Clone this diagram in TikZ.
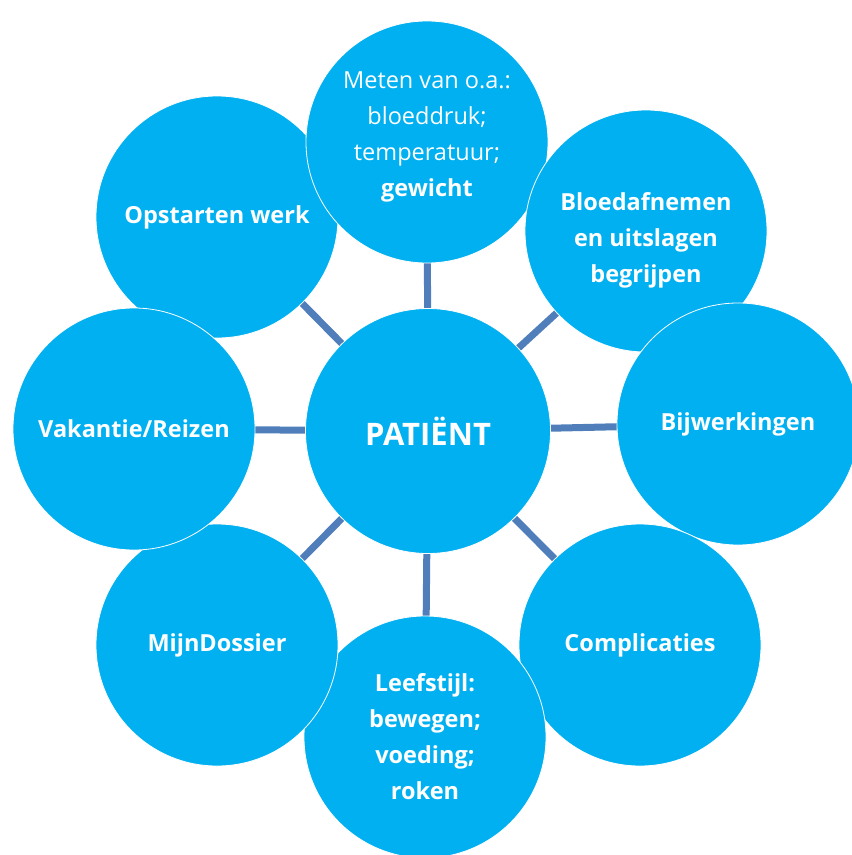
\documentclass[tikz,border=0pt]{standalone}
\usepackage{fontspec}
\setmainfont{Open Sans}
\usetikzlibrary{backgrounds}

\definecolor{bubbleblue}{RGB}{0,176,240}
\definecolor{spokeblue}{RGB}{79,126,186}

\begin{document}
\begin{tikzpicture}[x=1pt, y=-1pt,
  bubbletext/.style={text=white, align=center, inner sep=0pt,
    font=\fontsize{23.5}{36}\selectfont\bfseries},
  bubble/.style={circle, fill=bubbleblue, draw=white, line width=0.8pt,
    minimum size=242pt, inner sep=0pt, bubbletext},
  hub/.style={bubble, minimum size=245pt, font=\fontsize{31}{36}\selectfont\bfseries},
  spoke/.style={draw=spokeblue, line width=7pt}]
  \useasboundingbox (0, 0) rectangle (852, 855);

  % Outer bubbles
  \node[bubble] (werk) at (217, 217) {Opstarten werk}; % Top left
  \node[bubble] (meten) at (427, 142) {}; % Top
  \node[bubbletext, font=\fontsize{23.5}{36}\selectfont] (metentext) at ([yshift=5pt]meten.center)
    {Meten van o.a.:\\bloeddruk;\\temperatuur;\\\textbf{gewicht}};
  \node[bubble] (bloed) at (646, 231) {}; % Top right
  \node[bubbletext] (bloedtext) at ([yshift=-9pt]bloed.center)
    {Bloedafnemen\\en uitslagen\\begrijpen};
  \node[bubble] (bijw) at (738, 424) {Bijwerkingen}; % Right
  \node[bubble] (compl) at (640, 645) {Complicaties}; % Bottom right
  \node[bubble] (leef) at (425, 737) {Leefstijl:\\bewegen;\\voeding;\\roken}; % Bottom
  \node[bubble] (dossier) at (217, 645) {MijnDossier}; % Bottom left
  \node[bubble] (reizen) at (134, 429) {Vakantie/Reizen}; % Left

  % Centre
  \node[hub] (patient) at (428, 431) {PATIËNT};

  % Spokes
  \begin{scope}[on background layer]
    \foreach \n in {werk, meten, bloed, bijw, compl, leef, dossier, reizen}
      \draw[spoke] (patient.center) -- (\n.center);
  \end{scope}
\end{tikzpicture}
\end{document}
